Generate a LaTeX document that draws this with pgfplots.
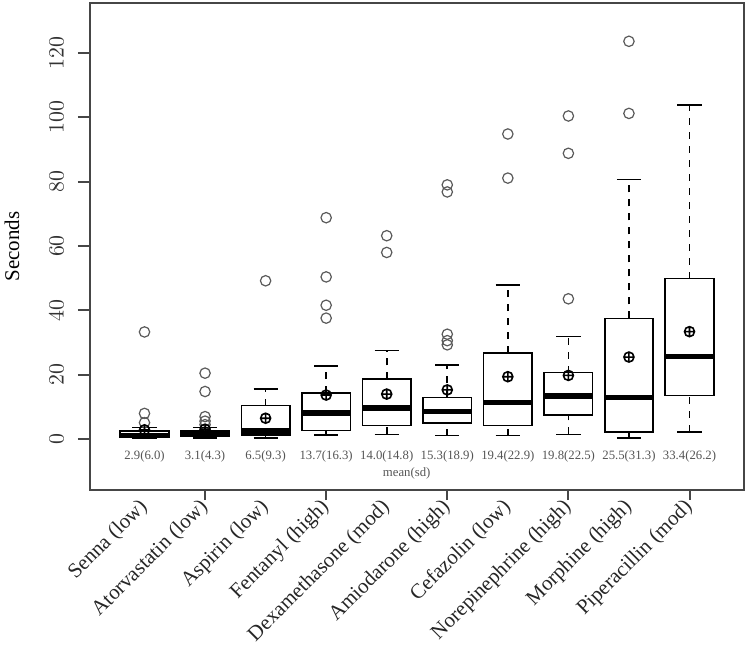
\documentclass[border=0pt]{standalone}
\usepackage{pgfplots}
\pgfplotsset{compat=1.18}
\usepgfplotslibrary{statistics}
\usepackage{fontspec}
\setmainfont{Liberation Serif}
\definecolor{framegray}{RGB}{70,70,70}
\definecolor{outgray}{RGB}{90,90,90}
\definecolor{labgray}{RGB}{85,85,85}
\pgfplotsset{
  boxplot/draw direction=y,
  boxplot/draw/lower whisker/.code={%
    \draw[line width=0.8bp, dash pattern=on 3.5bp off 3.5bp]
      (boxplot box cs:\pgfplotsboxplotvalue{lower whisker},0.5) --
      (boxplot box cs:\pgfplotsboxplotvalue{lower quartile},0.5);
    \draw[line width=0.8bp]
      (boxplot whisker cs:\pgfplotsboxplotvalue{lower whisker},0) --
      (boxplot whisker cs:\pgfplotsboxplotvalue{lower whisker},1);
  },
  boxplot/draw/upper whisker/.code={%
    \draw[line width=0.8bp, dash pattern=on 3.5bp off 3.5bp]
      (boxplot box cs:\pgfplotsboxplotvalue{upper quartile},0.5) --
      (boxplot box cs:\pgfplotsboxplotvalue{upper whisker},0.5);
    \draw[line width=0.8bp]
      (boxplot whisker cs:\pgfplotsboxplotvalue{upper whisker},0) --
      (boxplot whisker cs:\pgfplotsboxplotvalue{upper whisker},1);
  },
  boxplot/every box/.style={draw=black, line width=0.8bp, fill=none},
  boxplot/every median/.style={draw=black, line width=2.6bp},
  boxplot/box extend=0.8,
  boxplot/whisker extend=0.4,
  bx/.style={black, solid, boxplot/draw direction=y},
}
\begin{document}
\begin{tikzpicture}
\useasboundingbox (-45bp,-79bp) rectangle (329bp,245bp);
\begin{axis}[
  scale only axis, width=327bp, height=243.5bp,
  xmin=0.1, xmax=10.9, ymin=-15.8, ymax=135.5,
  axis line style={draw=framegray, line width=1bp},
  tick align=outside, tick pos=left,
  major tick length=6bp,
  every tick/.style={draw=framegray, line width=1bp},
  ytick={0,20,...,120},
  yticklabel style={font=\fontsize{10.5}{12}\selectfont, color=black!80, rotate=90, anchor=south, inner sep=0pt},
  yticklabel shift=7bp,
  xtick={1,...,10},
  xticklabels={Senna (low), Atorvastatin (low), Aspirin (low), Fentanyl (high), Dexamethasone (mod), Amiodarone (high), Cefazolin (low), Norepinephrine (high), Morphine (high), Piperacillin (mod)},
  xtick style={draw=none},
  xticklabel style={font=\fontsize{10.5}{12}\selectfont, color=black!85, rotate=45, anchor=east, inner sep=0pt},
  xticklabel shift=1bp,
  extra x ticks={2,4,6,8,10},
  extra x tick labels={,,,,},
  extra x tick style={xtick style={draw=framegray, line width=1bp}, major tick length=5bp},
  ylabel={Seconds},
  every axis y label/.style={at={(axis description cs:0,0.5)}, xshift=-39bp, rotate=90, anchor=center, font=\fontsize{10.5}{12}\selectfont},
  clip=false,
]
\addplot[bx, boxplot prepared={draw position=1, lower whisker=0.2, lower quartile=0.5, median=1.2, upper quartile=2.5, upper whisker=3.6}] coordinates {};
\addplot[bx, boxplot prepared={draw position=2, lower whisker=0.3, lower quartile=1.0, median=1.7, upper quartile=2.5, upper whisker=3.6}] coordinates {};
\addplot[bx, boxplot prepared={draw position=3, lower whisker=0.3, lower quartile=1.3, median=2.5, upper quartile=10.4, upper whisker=15.5}] coordinates {};
\addplot[bx, boxplot prepared={draw position=4, lower whisker=1.2, lower quartile=2.7, median=8.1, upper quartile=14.3, upper whisker=22.8}] coordinates {};
\addplot[bx, boxplot prepared={draw position=5, lower whisker=1.5, lower quartile=4.2, median=9.7, upper quartile=18.6, upper whisker=27.5}] coordinates {};
\addplot[bx, boxplot prepared={draw position=6, lower whisker=1.1, lower quartile=5.1, median=8.5, upper quartile=13.0, upper whisker=23.1}] coordinates {};
\addplot[bx, boxplot prepared={draw position=7, lower whisker=1.1, lower quartile=4.2, median=11.5, upper quartile=26.7, upper whisker=47.9}] coordinates {};
\addplot[bx, boxplot prepared={draw position=8, lower whisker=1.5, lower quartile=7.5, median=13.4, upper quartile=20.7, upper whisker=31.9}] coordinates {};
\addplot[bx, boxplot prepared={draw position=9, lower whisker=0.3, lower quartile=2.2, median=12.9, upper quartile=37.5, upper whisker=80.7}] coordinates {};
\addplot[bx, boxplot prepared={draw position=10, lower whisker=2.3, lower quartile=13.5, median=25.6, upper quartile=49.9, upper whisker=103.9}] coordinates {};
% outliers
\addplot[only marks, mark=o, mark size=2.6bp, draw=outgray, mark options={line width=0.6bp, solid}] coordinates {
 (1,33.3) (1,8.0) (1,5.1)
 (2,20.5) (2,14.8) (2,7.0) (2,5.6) (2,4.5)
 (3,49.2)
 (4,68.8) (4,50.4) (4,41.6) (4,37.6)
 (5,63.2) (5,58.0)
 (6,79.0) (6,76.8) (6,32.6) (6,30.6) (6,29.3)
 (7,94.8) (7,81.1)
 (8,100.4) (8,88.8) (8,43.6)
 (9,123.6) (9,101.2)
};
% means
\addplot[only marks, mark=oplus, mark size=2.5bp, black, mark options={line width=0.8bp, solid}] coordinates {
 (1,2.9) (2,3.1) (3,6.5) (4,13.7) (5,14.0) (6,15.3) (7,19.4) (8,19.8) (9,25.5) (10,33.4)
};
\begin{scope}[every node/.style={font=\fontsize{6.4}{7}\selectfont, text=labgray, inner sep=0pt}]
\node at (axis cs:1,-5.5) {2.9(6.0)};
\node at (axis cs:2,-5.5) {3.1(4.3)};
\node at (axis cs:3,-5.5) {6.5(9.3)};
\node at (axis cs:4,-5.5) {13.7(16.3)};
\node at (axis cs:5,-5.5) {14.0(14.8)};
\node at (axis cs:6,-5.5) {15.3(18.9)};
\node at (axis cs:7,-5.5) {19.4(22.9)};
\node at (axis cs:8,-5.5) {19.8(22.5)};
\node at (axis cs:9,-5.5) {25.5(31.3)};
\node at (axis cs:10,-5.5) {33.4(26.2)};
\node at (axis cs:5.33,-10.6) {mean(sd)};
\end{scope}
\end{axis}
\end{tikzpicture}
\end{document}
